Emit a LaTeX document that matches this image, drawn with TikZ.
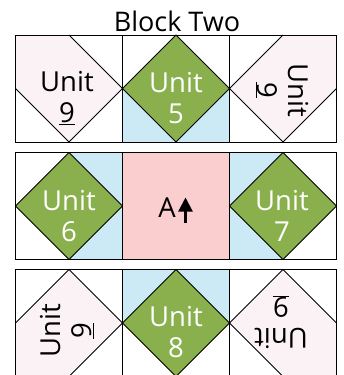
\documentclass[tikz,border=0pt]{standalone}
\usepackage{fontspec}
\setmainfont{Open Sans}
\usetikzlibrary{arrows.meta}
\definecolor{unitgreen}{HTML}{8AB04D}
\definecolor{lblue}{HTML}{CCEAF5}
\definecolor{cpink}{HTML}{FACDCE}
\definecolor{lpink}{HTML}{FAF2F5}
\begin{document}
\begin{tikzpicture}[x=1pt,y=-1pt,line join=miter,
  cellborder/.style={draw=black,line width=1pt},
  seam/.style={draw=black,line width=0.8pt},
  gdiamond/.style={fill=unitgreen,draw=black,line width=0.8pt},
  lbl/.style={inner sep=0pt,align=center,font=\fontsize{27.5}{30.5}\selectfont},
  wlbl/.style={lbl,text=white},
  arrowup/.style={line width=2.2pt,-{Triangle[width=14pt,length=14pt]}}]
\useasboundingbox (0,0) rectangle (344,375);
\clip (0,0) rectangle (344,375);

% title
\node[anchor=base,inner sep=0pt,font=\fontsize{27}{30}\selectfont] (title) at (177,31) {Block Two};

% ---------- row 1 ----------
\begin{scope}[shift={(15.5,35)}]
  \fill[lpink] (0,0) -- (53.5,0) -- (107,53.5) -- (53.5,107) -- (0,53.5) -- cycle;
  \draw[seam] (53.5,0) -- (107,53.5) -- (53.5,107) (0,53.5) -- (53.5,107);
\end{scope}
\begin{scope}[shift={(122.5,35)}]
  \fill[lblue] (0,53.5) rectangle (107,107);
  \draw[gdiamond] (53.5,0) -- (107,53.5) -- (53.5,107) -- (0,53.5) -- cycle;
\end{scope}
\begin{scope}[shift={(229.5,35)}]
  \fill[lpink] (107,0) -- (107,53.5) -- (53.5,107) -- (0,53.5) -- (53.5,0) -- cycle;
  \draw[seam] (53.5,0) -- (0,53.5) -- (53.5,107) -- (107,53.5);
\end{scope}

% ---------- row 2 ----------
\begin{scope}[shift={(15.5,152.5)}]
  \fill[lblue] (53.5,0) rectangle (107,107);
  \draw[gdiamond] (53.5,0) -- (107,53.5) -- (53.5,107) -- (0,53.5) -- cycle;
\end{scope}
\begin{scope}[shift={(122.5,152.5)}]
  \fill[cpink] (0,0) rectangle (107,107);
\end{scope}
\begin{scope}[shift={(229.5,152.5)}]
  \fill[lblue] (0,0) rectangle (53.5,107);
  \draw[gdiamond] (53.5,0) -- (107,53.5) -- (53.5,107) -- (0,53.5) -- cycle;
\end{scope}

% ---------- row 3 ----------
\begin{scope}[shift={(15.5,269.5)}]
  \fill[lpink] (53.5,0) -- (107,53.5) -- (53.5,107) -- (0,107) -- (0,53.5) -- cycle;
  \draw[seam] (0,53.5) -- (53.5,0) -- (107,53.5) -- (53.5,107);
\end{scope}
\begin{scope}[shift={(122.5,269.5)}]
  \fill[lblue] (0,0) rectangle (107,53.5);
  \draw[gdiamond] (53.5,0) -- (107,53.5) -- (53.5,107) -- (0,53.5) -- cycle;
\end{scope}
\begin{scope}[shift={(229.5,269.5)}]
  \fill[lpink] (53.5,0) -- (107,53.5) -- (107,107) -- (53.5,107) -- (0,53.5) -- cycle;
  \draw[seam] (0,53.5) -- (53.5,0) -- (107,53.5) (0,53.5) -- (53.5,107);
\end{scope}

% cell borders
\foreach \cx in {15.5,122.5,229.5}
  \foreach \cy in {35,152.5,269.5}
    \draw[cellborder] (\cx,\cy) rectangle ++(107,107);

% labels
\node[lbl] (u9a) at (67,98) {Unit\\\underline{9}};
\node[wlbl] (u5) at (176,98) {Unit\\5};
\node[lbl,rotate=-90] (u9b) at (282,90) {Unit\\\underline{9}};
\node[wlbl] (u6) at (69,216) {Unit\\6};
\node[lbl,anchor=base] (A) at (167,217.5) {A};
\node[wlbl] (u7) at (282,216) {Unit\\7};
\node[lbl,rotate=90] (u9c) at (67,331) {Unit\\\underline{9}};
\node[wlbl] (u8) at (176,332) {Unit\\8};
\node[lbl,rotate=180] (u9d) at (281,322) {Unit\\\underline{9}};

% arrow beside A
\coordinate (arrowbase) at (185.5,223);
\coordinate (arrowtip) at (185.5,197.5);
\draw[arrowup] (arrowbase) -- (arrowtip);
\end{tikzpicture}
\end{document}
